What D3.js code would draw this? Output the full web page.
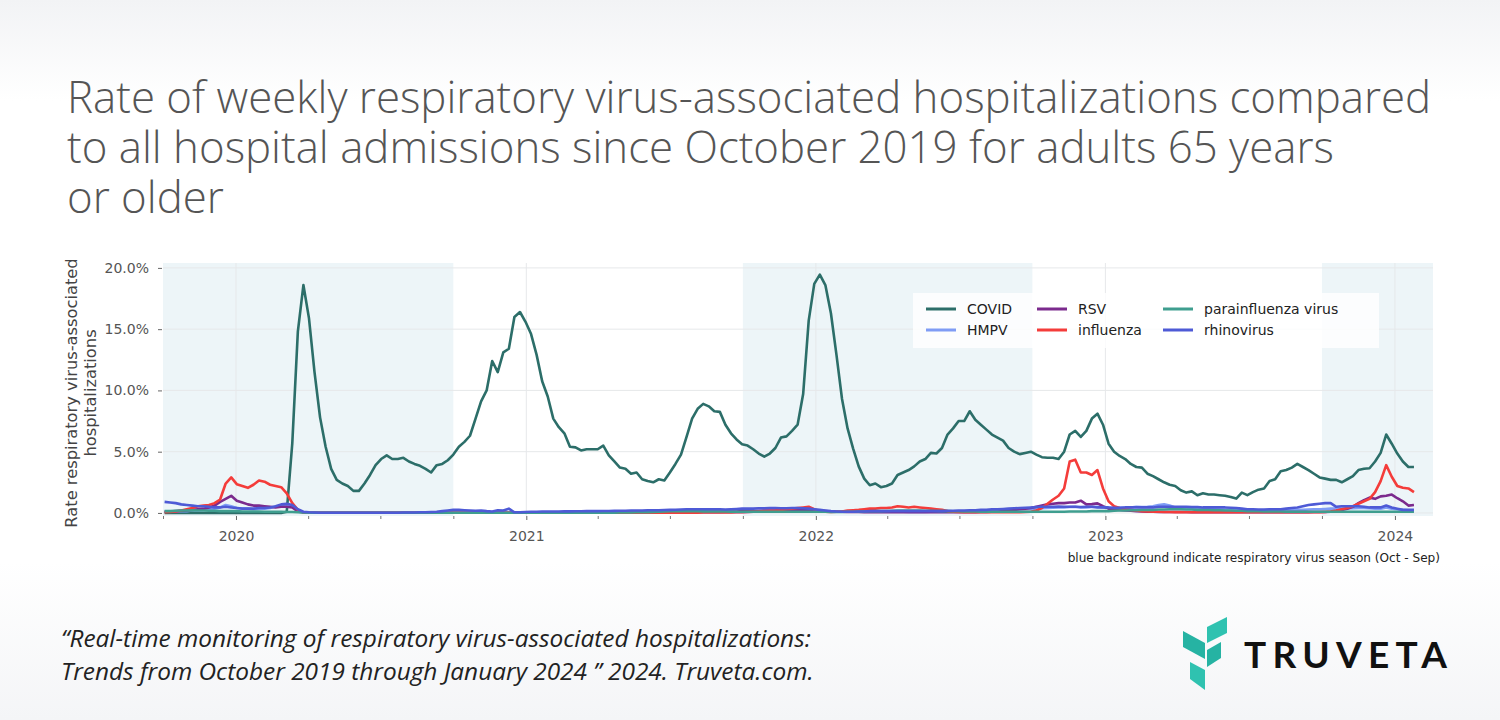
<!DOCTYPE html>
<html><head><meta charset="utf-8">
<script src="https://cdn.jsdelivr.net/npm/d3@7"></script>
<style>
html,body{margin:0;padding:0;}
body{width:1500px;height:720px;overflow:hidden;}
</style></head>
<body><svg id="chart" width="1500" height="720"></svg>
<script>
// ---------- DATA ----------
const startDate = "2019-10-03"; // first weekly observation
const titleLines = ["Rate of weekly respiratory virus-associated hospitalizations compared",
  "to all hospital admissions since October 2019 for adults 65 years",
  "or older"];
const footerLines = ["\u201cReal-time monitoring of respiratory virus-associated hospitalizations:",
  "Trends from October 2019 through January 2024 \u201d 2024. Truveta.com."];
const yTicks = [0, 5, 10, 15, 20];
const yTickLabels = ["0.0%", "5.0%", "10.0%", "15.0%", "20.0%"];
const xTickYears = ["2020", "2021", "2022", "2023", "2024"];
const seasons = [["2019-10-01", "2020-10-01"], ["2021-10-01", "2022-10-01"], ["2023-10-01", "2024-10-01"]];
const seriesNames = ["COVID", "HMPV", "RSV", "influenza", "parainfluenza virus", "rhinovirus"];
const seriesColors = ["#2c6e69", "#7f9cf5", "#7b2a8d", "#f43c3a", "#3f9e8f", "#4e5ad6"];

const covid = [0,0,0,0,0,0,0,0,0,0,
 0,0,0,0,0,0,0,0,0,0,
 0,0,0.1,5.7,14.8,18.6,15.9,11.5,7.8,5.4,
 3.6,2.7,2.4,2.2,1.8,1.8,2.4,3.1,3.9,4.4,
 4.7,4.4,4.4,4.5,4.2,4.0,3.85,3.6,3.3,3.9,
 4.0,4.3,4.76,5.4,5.8,6.3,7.7,9.1,10.0,12.4,
 11.5,13.1,13.4,16.0,16.4,15.6,14.6,12.9,10.75,9.5,
 7.7,7.0,6.5,5.4,5.35,5.1,5.2,5.2,5.2,5.5,
 4.7,4.2,3.7,3.6,3.2,3.3,2.75,2.6,2.5,2.75,
 2.65,3.3,4.0,4.76,6.2,7.7,8.5,8.9,8.7,8.3,
 8.25,7.2,6.5,6.0,5.6,5.5,5.2,4.85,4.6,4.85,
 5.3,6.15,6.25,6.7,7.2,9.7,15.7,18.7,19.45,18.6,
 16.3,12.9,9.3,6.9,5.25,3.8,2.8,2.26,2.4,2.1,
 2.2,2.4,3.1,3.3,3.5,3.8,4.2,4.4,4.9,4.85,
 5.3,6.4,6.9,7.5,7.5,8.3,7.6,7.2,6.8,6.4,
 6.15,5.9,5.3,5.0,4.8,4.9,5.0,4.76,4.55,4.5,
 4.5,4.4,5.0,6.4,6.7,6.2,6.7,7.7,8.1,7.2,
 5.65,5.0,4.65,4.4,4.0,3.75,3.7,3.2,3.0,2.75,
 2.5,2.3,2.2,1.85,1.66,1.76,1.44,1.6,1.5,1.5,
 1.45,1.4,1.3,1.17,1.66,1.45,1.7,1.9,2.0,2.6,
 2.75,3.4,3.5,3.7,4.0,3.75,3.5,3.2,2.9,2.8,
 2.7,2.7,2.5,2.75,3.0,3.5,3.6,3.65,4.2,4.9,
 6.4,5.65,4.85,4.2,3.75,3.75];

const hmpv = [0.1,0.1,0.12,0.15,0.15,0.2,0.2,0.25,0.3,0.35,
 0.45,0.65,0.55,0.4,0.35,0.35,0.3,0.35,0.35,0.4,
 0.5,0.6,0.7,0.6,0.2,0.05,0.02,0.01,0.01,0.01,
 0.01,0.01,0.01,0.01,0.01,0.01,0.01,0.01,0.01,0.01,
 0.01,0.01,0.01,0.01,0.01,0.01,0.01,0.01,0.01,0.01,
 0.01,0.01,0.01,0.01,0.01,0.01,0.01,0.01,0.01,0.01,
 0.02,0.02,0.02,0.02,0.02,0.02,0.02,0.02,0.02,0.02,
 0.02,0.02,0.02,0.02,0.02,0.02,0.02,0.02,0.02,0.02,
 0.02,0.02,0.02,0.02,0.02,0.02,0.02,0.02,0.02,0.02,
 0.03,0.03,0.03,0.03,0.03,0.03,0.03,0.03,0.03,0.03,
 0.04,0.05,0.05,0.06,0.07,0.08,0.1,0.1,0.12,0.12,
 0.15,0.15,0.18,0.2,0.2,0.2,0.18,0.15,0.12,0.1,
 0.1,0.1,0.12,0.12,0.15,0.15,0.15,0.15,0.12,0.12,
 0.1,0.1,0.1,0.1,0.08,0.08,0.08,0.08,0.1,0.1,
 0.1,0.1,0.1,0.12,0.12,0.12,0.15,0.15,0.15,0.18,
 0.2,0.2,0.22,0.25,0.28,0.3,0.32,0.35,0.38,0.4,
 0.42,0.45,0.45,0.48,0.5,0.45,0.45,0.48,0.5,0.45,
 0.4,0.4,0.42,0.45,0.45,0.5,0.48,0.5,0.55,0.65,
 0.7,0.6,0.45,0.4,0.35,0.35,0.3,0.3,0.3,0.3,
 0.28,0.25,0.25,0.22,0.22,0.2,0.2,0.2,0.2,0.2,
 0.2,0.2,0.22,0.22,0.25,0.25,0.28,0.3,0.3,0.32,
 0.35,0.35,0.35,0.38,0.38,0.4,0.4,0.38,0.35,0.35,
 0.45,0.35,0.3,0.25,0.22,0.2];

const rsv = [0.1,0.12,0.15,0.18,0.2,0.25,0.3,0.35,0.45,0.6,
 0.9,1.15,1.4,1.0,0.85,0.7,0.6,0.6,0.55,0.5,
 0.45,0.5,0.5,0.45,0.12,0.03,0.02,0.01,0.01,0.01,
 0.01,0.01,0.01,0.01,0.01,0.01,0.01,0.01,0.01,0.01,
 0.01,0.01,0.01,0.01,0.01,0.01,0.01,0.01,0.01,0.01,
 0.01,0.01,0.01,0.01,0.01,0.01,0.01,0.01,0.01,0.01,
 0.01,0.01,0.01,0.01,0.01,0.01,0.01,0.01,0.01,0.01,
 0.01,0.01,0.01,0.01,0.01,0.01,0.01,0.01,0.01,0.01,
 0.02,0.02,0.02,0.02,0.02,0.02,0.02,0.02,0.02,0.02,
 0.03,0.04,0.05,0.06,0.08,0.1,0.1,0.12,0.12,0.12,
 0.12,0.12,0.12,0.12,0.15,0.15,0.15,0.18,0.2,0.2,
 0.2,0.22,0.25,0.25,0.25,0.25,0.22,0.2,0.18,0.15,
 0.12,0.1,0.1,0.08,0.08,0.08,0.07,0.07,0.07,0.07,
 0.07,0.07,0.07,0.06,0.06,0.06,0.06,0.06,0.06,0.06,
 0.06,0.06,0.06,0.06,0.06,0.07,0.07,0.08,0.08,0.1,
 0.1,0.15,0.2,0.25,0.3,0.35,0.4,0.5,0.6,0.7,
 0.75,0.8,0.8,0.85,0.85,1.0,0.7,0.72,0.78,0.55,
 0.35,0.3,0.25,0.2,0.18,0.15,0.12,0.1,0.1,0.08,
 0.08,0.08,0.08,0.08,0.08,0.07,0.07,0.07,0.07,0.07,
 0.07,0.07,0.07,0.07,0.07,0.07,0.07,0.07,0.07,0.07,
 0.07,0.07,0.07,0.07,0.07,0.07,0.07,0.08,0.08,0.08,
 0.1,0.15,0.25,0.35,0.5,0.8,1.05,1.25,1.15,1.35,
 1.4,1.5,1.2,0.95,0.6,0.65];

const influenza = [0.05,0.08,0.12,0.2,0.3,0.4,0.55,0.6,0.65,0.8,
 1.1,2.4,2.9,2.35,2.2,2.05,2.3,2.65,2.55,2.3,
 2.2,2.1,1.6,0.8,0.25,0.05,0.02,0.02,0.01,0.01,
 0.01,0.01,0.01,0.01,0.01,0.01,0.01,0.01,0.01,0.01,
 0.01,0.01,0.01,0.01,0.01,0.01,0.01,0.01,0.02,0.02,
 0.02,0.02,0.02,0.02,0.02,0.02,0.02,0.02,0.02,0.02,
 0.02,0.02,0.02,0.02,0.02,0.02,0.02,0.02,0.02,0.02,
 0.02,0.02,0.02,0.02,0.02,0.02,0.02,0.02,0.02,0.02,
 0.02,0.02,0.02,0.02,0.02,0.02,0.02,0.02,0.02,0.02,
 0.02,0.02,0.02,0.02,0.02,0.02,0.02,0.03,0.03,0.03,
 0.03,0.03,0.04,0.05,0.06,0.08,0.1,0.12,0.15,0.18,
 0.2,0.25,0.3,0.35,0.4,0.45,0.5,0.3,0.15,0.1,
 0.08,0.1,0.12,0.2,0.22,0.25,0.3,0.35,0.35,0.4,
 0.4,0.45,0.55,0.5,0.45,0.5,0.45,0.4,0.35,0.3,
 0.25,0.15,0.1,0.08,0.05,0.05,0.05,0.05,0.05,0.05,
 0.05,0.05,0.05,0.05,0.05,0.08,0.1,0.2,0.4,0.75,
 1.1,1.4,2.0,4.2,4.35,3.3,3.3,3.1,3.5,2.0,
 0.95,0.55,0.4,0.3,0.25,0.2,0.15,0.12,0.1,0.1,
 0.08,0.08,0.07,0.07,0.06,0.06,0.06,0.06,0.05,0.05,
 0.05,0.05,0.05,0.05,0.05,0.05,0.05,0.05,0.05,0.05,
 0.05,0.05,0.05,0.05,0.05,0.05,0.05,0.05,0.05,0.08,
 0.12,0.2,0.3,0.4,0.55,0.75,0.95,1.15,1.7,2.6,
 3.9,2.95,2.2,2.05,2.0,1.7];

const parainfluenza = [0.15,0.15,0.18,0.2,0.2,0.22,0.2,0.2,0.18,0.18,
 0.15,0.15,0.15,0.15,0.12,0.12,0.12,0.12,0.1,0.1,
 0.1,0.1,0.08,0.08,0.05,0.03,0.02,0.01,0.01,0.01,
 0.01,0.01,0.01,0.01,0.01,0.01,0.01,0.01,0.01,0.01,
 0.01,0.01,0.01,0.01,0.01,0.01,0.01,0.01,0.01,0.01,
 0.01,0.01,0.01,0.01,0.01,0.01,0.01,0.01,0.01,0.01,
 0.01,0.01,0.01,0.01,0.01,0.01,0.01,0.01,0.01,0.01,
 0.01,0.01,0.01,0.01,0.01,0.01,0.01,0.01,0.01,0.01,
 0.02,0.02,0.03,0.03,0.04,0.05,0.06,0.07,0.08,0.1,
 0.12,0.14,0.15,0.15,0.15,0.15,0.14,0.13,0.12,0.12,
 0.12,0.12,0.11,0.1,0.1,0.1,0.1,0.1,0.1,0.1,
 0.1,0.1,0.1,0.1,0.1,0.1,0.1,0.1,0.1,0.1,
 0.08,0.08,0.08,0.1,0.1,0.12,0.12,0.14,0.15,0.15,
 0.16,0.18,0.2,0.2,0.2,0.2,0.2,0.18,0.18,0.16,
 0.15,0.15,0.14,0.14,0.12,0.12,0.12,0.1,0.1,0.1,
 0.1,0.1,0.1,0.1,0.1,0.1,0.1,0.1,0.1,0.1,
 0.1,0.1,0.1,0.12,0.12,0.12,0.12,0.15,0.15,0.15,
 0.15,0.18,0.2,0.2,0.22,0.22,0.25,0.25,0.25,0.28,
 0.28,0.3,0.3,0.3,0.28,0.28,0.25,0.25,0.25,0.22,
 0.22,0.2,0.2,0.18,0.18,0.15,0.15,0.15,0.12,0.12,
 0.12,0.12,0.1,0.1,0.1,0.1,0.1,0.1,0.1,0.1,
 0.1,0.1,0.1,0.1,0.1,0.1,0.1,0.1,0.1,0.1,
 0.1,0.1,0.1,0.1,0.1,0.1];

const rhinovirus = [0.9,0.85,0.8,0.7,0.65,0.6,0.55,0.55,0.5,0.45,
 0.45,0.5,0.45,0.4,0.35,0.35,0.35,0.4,0.4,0.45,
 0.55,0.7,0.75,0.65,0.3,0.1,0.05,0.03,0.02,0.02,
 0.02,0.02,0.02,0.02,0.02,0.02,0.02,0.02,0.02,0.02,
 0.02,0.02,0.02,0.03,0.03,0.04,0.05,0.06,0.08,0.1,
 0.15,0.2,0.25,0.25,0.22,0.2,0.18,0.2,0.15,0.12,
 0.22,0.2,0.35,0.05,0.06,0.08,0.1,0.1,0.12,0.12,
 0.12,0.12,0.13,0.13,0.14,0.14,0.15,0.15,0.15,0.16,
 0.16,0.17,0.18,0.18,0.2,0.2,0.2,0.22,0.22,0.22,
 0.24,0.25,0.26,0.28,0.3,0.3,0.3,0.3,0.3,0.3,
 0.3,0.28,0.3,0.32,0.35,0.35,0.35,0.38,0.38,0.4,
 0.4,0.38,0.38,0.4,0.4,0.38,0.35,0.3,0.25,0.2,
 0.15,0.12,0.1,0.1,0.1,0.12,0.12,0.15,0.15,0.15,
 0.15,0.15,0.15,0.15,0.15,0.15,0.15,0.15,0.15,0.15,
 0.15,0.18,0.18,0.2,0.2,0.22,0.22,0.25,0.25,0.3,
 0.3,0.32,0.35,0.38,0.4,0.42,0.45,0.48,0.5,0.5,
 0.5,0.52,0.5,0.5,0.5,0.48,0.5,0.5,0.45,0.45,
 0.45,0.42,0.42,0.45,0.45,0.45,0.45,0.45,0.45,0.5,
 0.5,0.5,0.5,0.5,0.5,0.48,0.48,0.45,0.45,0.45,
 0.45,0.45,0.42,0.4,0.35,0.3,0.3,0.28,0.28,0.3,
 0.3,0.3,0.35,0.4,0.45,0.55,0.65,0.7,0.75,0.8,
 0.8,0.5,0.55,0.55,0.55,0.55,0.5,0.45,0.45,0.45,
 0.6,0.45,0.35,0.25,0.25,0.25];

// ---------- CHART ----------
const seriesValues = [covid, hmpv, rsv, influenza, parainfluenza, rhinovirus];
const parseDate = d3.timeParse("%Y-%m-%d");
const d0 = parseDate(startDate);
const weeks = covid.map((_, i) => d3.timeDay.offset(d0, 7 * i));

const svg = d3.select("#chart");
const W = 1500, H = 720;
const M = {left: 163, right: 1433, top: 263, bottom: 516};

// background gradient
const defs = svg.append("defs");
const grad = defs.append("linearGradient").attr("id", "bg").attr("x1", 0).attr("y1", 0).attr("x2", 0).attr("y2", 1);
grad.append("stop").attr("offset", "0%").attr("stop-color", "#f2f3f5");
grad.append("stop").attr("offset", "14%").attr("stop-color", "#ffffff");
grad.append("stop").attr("offset", "78%").attr("stop-color", "#ffffff");
grad.append("stop").attr("offset", "100%").attr("stop-color", "#f4f5f7");
svg.append("rect").attr("width", W).attr("height", H).attr("fill", "url(#bg)");

const x = d3.scaleTime().domain([parseDate("2019-10-01"), parseDate("2024-02-18")]).range([M.left, M.right]);
const y = d3.scaleLinear().domain([-0.25, 20.4]).range([M.bottom, M.top]);

// season shading
const clip = defs.append("clipPath").attr("id", "plotclip");
clip.append("rect").attr("x", M.left).attr("y", M.top).attr("width", M.right - M.left).attr("height", M.bottom - M.top);

svg.append("g").attr("clip-path", "url(#plotclip)")
  .selectAll("rect").data(seasons).join("rect")
  .attr("x", d => x(parseDate(d[0])))
  .attr("width", d => x(parseDate(d[1])) - x(parseDate(d[0])))
  .attr("y", M.top).attr("height", M.bottom - M.top)
  .attr("fill", "#edf5f8");

// grid
const yearDates = xTickYears.map(s => parseDate(s + "-01-01"));
svg.append("g").selectAll("line").data(yTicks).join("line")
  .attr("x1", M.left).attr("x2", M.right)
  .attr("y1", d => y(d)).attr("y2", d => y(d))
  .attr("stroke", "#e6e8ea").attr("stroke-width", 1);
svg.append("g").selectAll("line").data(yearDates).join("line")
  .attr("x1", d => x(d)).attr("x2", d => x(d))
  .attr("y1", M.top).attr("y2", M.bottom)
  .attr("stroke", "#e6e8ea").attr("stroke-width", 1);

// axes
const yAxis = d3.axisLeft(y).tickValues(yTicks).tickFormat((d, i) => yTickLabels[i]).tickSize(4).tickPadding(9);
const gy = svg.append("g").attr("transform", `translate(${M.left - 1},0)`).call(yAxis);
gy.select(".domain").remove();
gy.selectAll("line").attr("stroke", "#666");
gy.selectAll("text").attr("font-family", "DejaVu Sans").attr("font-size", 14).attr("fill", "#555");

const xAxis = d3.axisBottom(x).tickValues(yearDates).tickFormat((d, i) => xTickYears[i]).tickSize(4).tickPadding(11);
const gx = svg.append("g").attr("transform", `translate(0,${M.bottom})`).call(xAxis);
gx.select(".domain").remove();
gx.selectAll("line").attr("stroke", "#666");
gx.selectAll("text").attr("font-family", "DejaVu Sans").attr("font-size", 14).attr("fill", "#555");

const minorDates = d3.timeMonth.every(3).range(x.domain()[0], x.domain()[1]).filter(d => d.getMonth() !== 0);
const xMinor = d3.axisBottom(x).tickValues(minorDates).tickFormat("").tickSize(3);
const gxm = svg.append("g").attr("transform", `translate(0,${M.bottom})`).call(xMinor);
gxm.select(".domain").remove();
gxm.selectAll("line").attr("stroke", "#777");

// lines
const line = d3.line().x((d, i) => x(weeks[i])).y(d => y(d));
svg.append("g").attr("clip-path", "url(#plotclip)")
  .selectAll("path").data(seriesValues).join("path")
  .attr("d", d => line(d))
  .attr("fill", "none")
  .attr("stroke", (d, i) => seriesColors[i])
  .attr("stroke-width", 2.6)
  .attr("stroke-linejoin", "round");

// legend
const lg = svg.append("g").attr("transform", "translate(913,293)");
lg.append("rect").attr("width", 466).attr("height", 55).attr("fill", "#ffffff").attr("fill-opacity", 0.82);
const legendOrder = [0, 1, 2, 3, 4, 5];
const colX = [13, 124, 250];
const rowY = [16, 37];
legendOrder.forEach((si, k) => {
  const col = Math.floor(k / 2), row = k % 2;
  const gx0 = colX[col], gy0 = rowY[row];
  lg.append("line").attr("x1", gx0).attr("x2", gx0 + 30).attr("y1", gy0).attr("y2", gy0)
    .attr("stroke", seriesColors[si]).attr("stroke-width", 3);
  lg.append("text").attr("x", gx0 + 41).attr("y", gy0 + 5)
    .attr("font-family", "DejaVu Sans").attr("font-size", 14).attr("fill", "#222")
    .text(seriesNames[si]);
});

// y label
const ylab = svg.append("text").attr("transform", "translate(77,393) rotate(-90)")
  .attr("text-anchor", "middle").attr("font-family", "DejaVu Sans").attr("font-size", 16.3).attr("fill", "#444");
ylab.append("tspan").attr("x", 0).attr("dy", 0).text("Rate respiratory virus-associated");
ylab.append("tspan").attr("x", 0).attr("dy", 19).text("hospitalizations");

// note
svg.append("text").attr("x", 1440).attr("y", 562).attr("text-anchor", "end")
  .attr("font-family", "DejaVu Sans").attr("font-size", 12.1).attr("fill", "#222")
  .text("blue background indicate respiratory virus season (Oct - Sep)");

// title
svg.append("g").selectAll("text").data(titleLines).join("text")
  .attr("x", 67).attr("y", (d, i) => 113 + i * 50)
  .attr("font-family", "Open Sans").attr("font-weight", 300).attr("font-size", 43.8).attr("fill", "#555")
  .text(d => d);

// footer
svg.append("g").selectAll("text").data(footerLines).join("text")
  .attr("x", 61).attr("y", (d, i) => 647 + i * 33)
  .attr("font-family", "Open Sans").attr("font-style", "italic").attr("font-size", 24.4).attr("fill", "#222")
  .text(d => d);

// logo
const logo = svg.append("g");
const leafs = [
  [[1183, 631], [1205, 643], [1205, 659], [1183, 647]],
  [[1207, 627], [1227, 617], [1227, 633], [1207, 643]],
  [[1207, 650], [1221, 642], [1221, 658], [1207, 667]],
  [[1190, 662], [1205, 670], [1205, 690], [1190, 679]]
];
logo.selectAll("polygon").data(leafs).join("polygon")
  .attr("points", d => d.map(p => p.join(",")).join(" "))
  .attr("fill", (d, i) => i % 2 ? "#2fc2b0" : "#26b3a3");
logo.append("text").attr("x", 1244).attr("y", 668)
  .attr("font-family", "Lato").attr("font-weight", 700).attr("font-size", 37).attr("fill", "#111")
  .attr("textLength", 203).attr("lengthAdjust", "spacing")
  .text("TRUVETA");
</script>
</body></html>
